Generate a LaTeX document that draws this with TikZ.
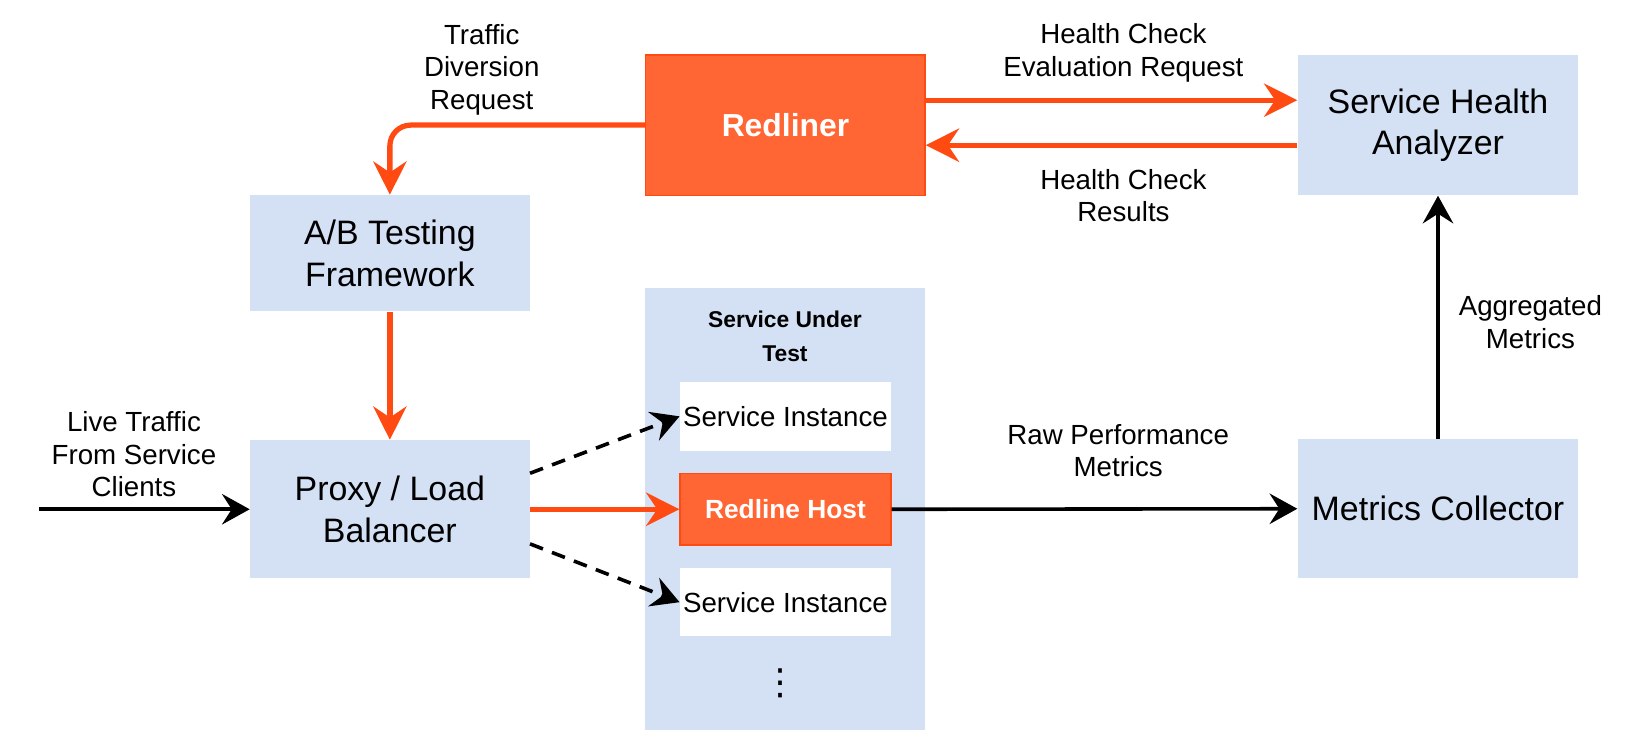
\documentclass[tikz,border=0pt]{standalone}
\usepackage{fontspec}
\setmainfont{Liberation Sans}
\newfontfamily\symfont{DejaVu Sans}
\usetikzlibrary{arrows.meta}

\definecolor{boxblue}{RGB}{212,225,245}
\definecolor{redfill}{RGB}{255,102,51}
\definecolor{redline}{RGB}{255,74,18}

\tikzset{every picture/.style={line width=0.75pt}}
\tikzset{
  bluebox/.style={fill=boxblue, inner sep=0pt, align=center, font=\fontsize{24.5}{30}\selectfont},
  redbox/.style={fill=redfill, draw=redline, line width=1pt, inner sep=0pt, align=center, text=white},
  whitebox/.style={fill=white, inner sep=0pt, align=center, font=\fontsize{20}{24}\selectfont},
  lbl/.style={inner sep=0.75pt, align=center, font=\fontsize{20}{23.5}\selectfont},
  redarrow/.style={draw=redline, line width=3.8pt, -{Stealth[length=24pt,width=24pt,inset=8pt]}},
  blackarrow/.style={draw=black, line width=2.6pt, -{Stealth[length=20pt,width=22pt,inset=7pt]}},
  dasharrow/.style={blackarrow, dash pattern=on 10pt off 7pt}
}

\begin{document}
\begin{tikzpicture}[x=0.75pt,y=0.75pt,yscale=-1,xscale=1]
\useasboundingbox (0,0) rectangle (1568,713);

%Shape: Rectangle [Service Under Test]
\draw (756,490) node [fill=boxblue][minimum width=202.5pt, minimum height=319.5pt] (sut) {};
% Text Node
\draw (756,324) node [inner sep=0.75pt][align=center][font=\bfseries\fontsize{16.5}{24}\selectfont] (suttitle) {Service Under\\Test};

%Shape: Rectangle [Redliner]
\draw (756.5,120.5) node [redbox][minimum width=201.75pt, minimum height=101.25pt][font=\bfseries\fontsize{23}{28}\selectfont] (redliner) {Redliner};
%Shape: Rectangle
\draw (1385,120.5) node [bluebox][minimum width=202.5pt, minimum height=101.25pt] (sha) {Service Health\\Analyzer};
%Shape: Rectangle
\draw (375.5,244) node [bluebox][minimum width=201.75pt, minimum height=84pt] (ab) {A/B Testing\\Framework};
%Shape: Rectangle
\draw (375.5,490.5) node [bluebox][minimum width=201.75pt, minimum height=99.75pt] (proxy) {Proxy / Load\\Balancer};
%Shape: Rectangle
\draw (1385,490) node [bluebox][minimum width=202.5pt, minimum height=100.5pt] (mc) {Metrics Collector};

%Shape: Rectangle [instances]
\draw (756.5,401) node [whitebox][minimum width=152.25pt, minimum height=49.5pt] (inst1) {Service Instance};
\draw (756.5,490.5) node [redbox][minimum width=152.25pt, minimum height=51.75pt][font=\bfseries\fontsize{19}{23}\selectfont] (host) {Redline Host};
\draw (756.5,580) node [whitebox][minimum width=152.25pt, minimum height=49.5pt] (inst2) {Service Instance};
% Text Node
\draw (752,658) node [inner sep=0pt][font=\symfont\fontsize{26}{30}\selectfont] (more) {⋮};

%Straight Lines [orange]
\draw [redarrow] ([yshift=-18pt]redliner.east) -- ([yshift=-18pt]sha.west) ;
\draw [redarrow] ([yshift=14.5pt]sha.west) -- ([yshift=14.5pt]redliner.east) ;
\draw [redarrow, rounded corners=15pt] (redliner.west) -| (ab.north) ;
\draw [redarrow] (ab.south) -- (proxy.north) ;
\draw [redarrow] (proxy.east) -- (host.west) ;

%Straight Lines [black]
\coordinate (live) at (38,490.5) ;
\draw [blackarrow] (live) -- (proxy.west) ;
\draw [dasharrow] ([yshift=-26pt]proxy.east) -- (inst1.west) ;
\draw [dasharrow] ([yshift=25pt]proxy.east) -- (inst2.west) ;
\draw [blackarrow] (host.east) -- (mc.west) ;
\draw [blackarrow] (mc.north) -- (sha.south) ;

% Text Node
\draw (464,67) node [lbl] (tdr) {Traffic\\Diversion\\Request};
% Text Node
\draw (1082,51) node [lbl] (hcer) {Health Check\\Evaluation Request};
% Text Node
\draw (1082,188.5) node [lbl] (hcr) {Health Check\\Results};
% Text Node
\draw (1474,310) node [lbl] (agg) {Aggregated\\Metrics};
% Text Node
\draw (1077,434) node [lbl] (raw) {Raw Performance\\Metrics};
% Text Node
\draw (129,437.5) node [lbl] (livelbl) {Live Traffic\\From Service\\Clients};

\end{tikzpicture}
\end{document}
